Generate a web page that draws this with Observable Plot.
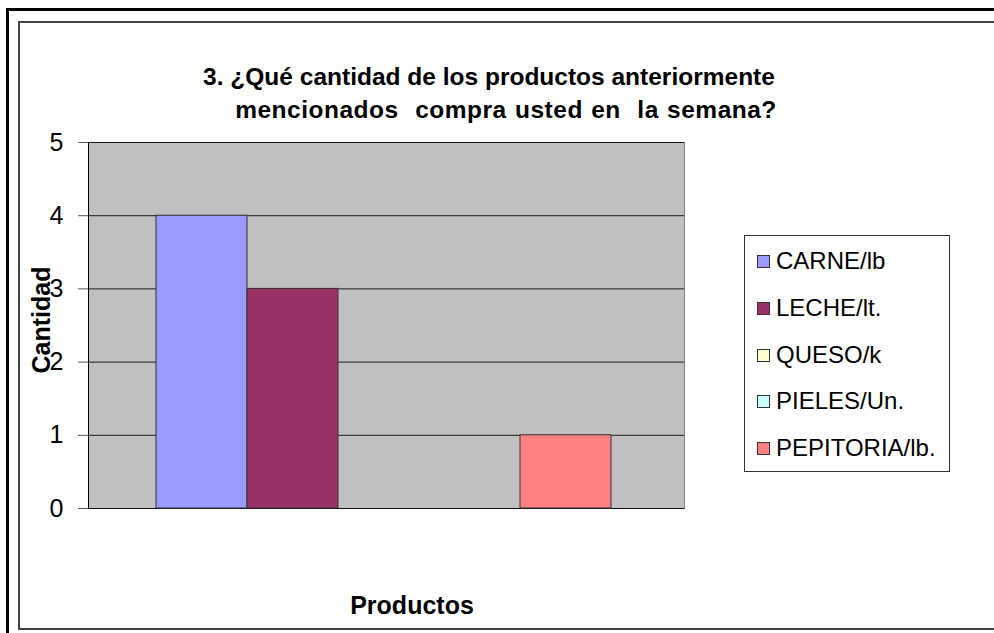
<!DOCTYPE html>
<html>
<head>
<meta charset="utf-8">
<script src="https://cdn.jsdelivr.net/npm/d3@7"></script>
<script src="https://cdn.jsdelivr.net/npm/@observablehq/plot@0.6"></script>
<style>
  html, body { margin: 0; padding: 0; background: #fff; overflow: hidden; }
  #page { position: relative; width: 994px; height: 633px; font-family: "Liberation Sans", Arial, sans-serif; }
  #outer { position: absolute; left: 6px; top: 8px; width: 1000px; height: 640px; border-left: 3px solid #000; border-top: 3px solid #000; }
  #inner { position: absolute; left: 18px; top: 21px; width: 1000px; height: 605px; border-left: 2px solid #444; border-top: 2px solid #444; border-bottom: 2px solid #444; }
  .tline { position: absolute; transform: translate(-50%, -50%); font-weight: bold; font-size: 24.5px; white-space: pre; color: #000; }
  #chart { position: absolute; left: 0; top: 0; }
  #ylabel { position: absolute; left: 41px; top: 320px; transform: translate(-50%, -50%) rotate(-90deg); font-weight: bold; font-size: 25px; white-space: nowrap; }
  #xlabel { position: absolute; left: 412px; top: 605px; transform: translate(-50%, -50%); font-weight: bold; font-size: 25px; white-space: nowrap; }
  #legend { position: absolute; left: 744px; top: 235px; width: 206px; height: 237px; border: 1px solid #333; box-sizing: border-box; }
  .item { position: absolute; left: 12px; font-size: 24px; line-height: 28px; white-space: nowrap; transform: translateY(-50%); }
  .sw { display: inline-block; width: 13px; height: 13px; border: 1px solid #333; margin-right: 6px; vertical-align: 1px; box-sizing: border-box; }
</style>
</head>
<body>
<div id="page">
  <div id="outer"></div>
  <div id="inner"></div>
  <div id="chart"></div>
  <div id="t1" class="tline" style="left:489px; top:77px;"></div>
  <div id="t2" class="tline" style="left:506px; top:110px; letter-spacing:0.5px; word-spacing:1px;"></div>
  <div id="ylabel"></div>
  <div id="xlabel"></div>
  <div id="legend"></div>
</div>
<script>
const titleLines = ["3. ¿Qué cantidad de los productos anteriormente", "mencionados  compra usted en  la semana?"];
const yTitle = "Cantidad";
const xTitle = "Productos";
const productos = ["CARNE/lb", "LECHE/lt.", "QUESO/k", "PIELES/Un.", "PEPITORIA/lb."];
const valores = [4, 3, 0, 0, 1];
const colores = ["#9999ff", "#993366", "#ffffcc", "#ccffff", "#ff8080"];
const yTicks = [0, 1, 2, 3, 4, 5];

const data = productos.map((p, i) => ({producto: p, valor: valores[i]}));

document.getElementById("t1").textContent = titleLines[0];
document.getElementById("t2").textContent = titleLines[1];
document.getElementById("ylabel").textContent = yTitle;
document.getElementById("xlabel").textContent = xTitle;

const chart = Plot.plot({
  width: 994,
  height: 633,
  marginLeft: 88,
  marginRight: 310,
  marginTop: 142,
  marginBottom: 125,
  style: {fontFamily: "'Liberation Sans', Arial, sans-serif", background: "transparent", color: "#000"},
  x: {domain: productos, range: [156, 611], padding: 0, axis: null},
  y: {domain: [0, 5]},
  color: {domain: productos, range: colores},
  marks: [
    Plot.frame({fill: "#c0c0c0", stroke: "#808080"}),
    Plot.gridY(yTicks, {stroke: "#000", strokeOpacity: 0.85}),
    Plot.barY(data, {x: "producto", y: "valor", fill: "producto", stroke: "#333", strokeWidth: 1}),
    Plot.frame({anchor: "left", stroke: "#000"}),
    Plot.axisY(yTicks, {tickSize: 10, tickPadding: 15, fontSize: 25, tickFormat: d3.format("d"), label: null, stroke: "#555", strokeOpacity: 1})
  ]
});
document.getElementById("chart").appendChild(chart);

const legend = document.getElementById("legend");
productos.forEach((p, i) => {
  const d = document.createElement("div");
  d.className = "item";
  d.style.top = (25 + i * 46.75) + "px";
  const s = document.createElement("span");
  s.className = "sw";
  s.style.background = colores[i];
  d.appendChild(s);
  d.appendChild(document.createTextNode(p));
  legend.appendChild(d);
});
</script>
</body>
</html>
